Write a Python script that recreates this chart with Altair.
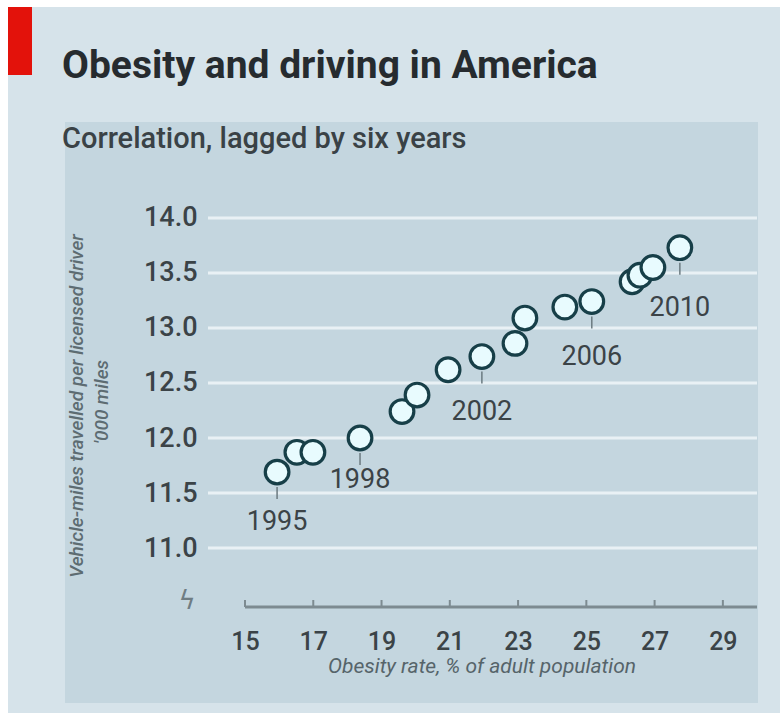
import altair as alt
import pandas as pd

# ---- data ----
years = [1995, 1996, 1997, 1998, 1999, 2000, 2001, 2002,
         2003, 2004, 2005, 2006, 2007, 2008, 2009, 2010]
obesity = [15.94, 16.52, 16.99, 18.37, 19.60, 20.04, 20.95, 21.94,
           22.91, 23.20, 24.37, 25.16, 26.34, 26.57, 26.95, 27.74]
vmt = [11.69, 11.87, 11.87, 12.00, 12.24, 12.39, 12.62, 12.74,
       12.86, 13.09, 13.19, 13.24, 13.42, 13.48, 13.55, 13.73]
labelled_years = [1995, 1998, 2002, 2006, 2010]
y_ticks = [11.0, 11.5, 12.0, 12.5, 13.0, 13.5, 14.0]
x_ticks = [15, 17, 19, 21, 23, 25, 27, 29]

title_text = "Obesity and driving in America"
subtitle_text = "Correlation, lagged by six years"
x_title = "Obesity rate, % of adult population"
y_title_1 = "Vehicle-miles travelled per licensed driver"
y_title_2 = "'000 miles"

df = pd.DataFrame({"year": years, "obesity": obesity, "vmt": vmt})
df["label"] = df["year"].astype(str)
lab = df[df["year"].isin(labelled_years)]
ydf = pd.DataFrame({"v": y_ticks})
xdf = pd.DataFrame({"v": x_ticks})
one = pd.DataFrame({"a": [0]})

# ---- layout ----
LEFT, TOP, W, H = 208, 170, 549, 437
FONT = "Roboto"
XDOM = [13.916, 30.0]
YDOM = [10.464, 14.436]

xs = alt.Scale(domain=XDOM, nice=False, zero=False)
ys = alt.Scale(domain=YDOM, nice=False, zero=False)


def px(v):
    return alt.value(v - LEFT)


def py(v):
    return alt.value(v - TOP)


base1 = alt.Chart(one)

outer = base1.mark_rect(color="#d6e3ea").encode(
    x=px(8), x2=px(780), y=py(7), y2=py(713))
panel = base1.mark_rect(color="#c4d6df").encode(
    x=px(65), x2=px(758), y=py(122), y2=py(703))
redbar = base1.mark_rect(color="#e3120b").encode(
    x=px(8), x2=px(32), y=py(7), y2=py(75))

title = base1.mark_text(
    text=title_text, font=FONT, fontSize=39, fontWeight="bold",
    color="#262b2f", align="left", baseline="alphabetic").encode(
    x=px(62), y=py(78))
subtitle = base1.mark_text(
    text=subtitle_text, font=FONT, fontSize=29, fontWeight=500,
    color="#3a4246", align="left", baseline="alphabetic").encode(
    x=px(62), y=py(148))

ytitle1 = base1.mark_text(
    text=y_title_1, font=FONT, fontSize=19, fontStyle="italic",
    fontWeight=500, color="#5d6c72", angle=270, align="center",
    baseline="middle").encode(x=px(77), y=py(406))
ytitle2 = base1.mark_text(
    text=y_title_2, font=FONT, fontSize=19, fontStyle="italic",
    fontWeight=500, color="#5d6c72", angle=270, align="center",
    baseline="middle").encode(x=px(102), y=py(402))
xtitle = base1.mark_text(
    text=x_title, font=FONT, fontSize=21, fontStyle="italic",
    color="#56646a", align="center", baseline="middle").encode(
    x=px(482), y=py(667))
brk = base1.mark_text(
    text="ϟ", font="DejaVu Sans", fontSize=26, color="#6f7d83",
    align="center", baseline="middle").encode(
    x=px(187), y=py(601))

grid = alt.Chart(ydf).mark_rule(color="#e9f1f5", strokeWidth=3).encode(
    y=alt.Y("v:Q", scale=ys,
            axis=alt.Axis(values=y_ticks, format=".1f", title=None,
                          grid=False, ticks=False, domain=False,
                          labelFont=FONT, labelFontSize=27,
                          labelFontWeight=500,
                          labelColor="#3b4347", labelPadding=11,
                          zindex=1)),
    x=alt.value(0), x2=alt.value(W))

xaxis_line = base1.mark_rule(color="#7d8b91", strokeWidth=3).encode(
    x=alt.X(datum=15, scale=xs,
            axis=alt.Axis(values=x_ticks, title=None, grid=False,
                          ticks=False, domain=False, labelFont=FONT,
                          labelFontSize=25, labelFontWeight=500,
                          labelColor="#3b4347",
                          labelPadding=22, zindex=1)),
    x2=alt.datum(30),
    y=alt.value(H))
xticks_m = alt.Chart(xdf).mark_rule(color="#7d8b91", strokeWidth=2).encode(
    x=alt.X("v:Q", scale=xs), y=alt.value(H - 7), y2=alt.value(H))

leaders = alt.Chart(lab).mark_rule(
    color="#6b7a80", strokeWidth=1.5, yOffset=15, y2Offset=27).encode(
    x=alt.X("obesity:Q", scale=xs), y=alt.Y("vmt:Q", scale=ys),
    y2="vmt:Q")

points = alt.Chart(df).mark_point(
    shape="circle", filled=False, size=560, strokeWidth=3.2,
    fill="#e8fbfe", fillOpacity=1, stroke="#173f48", opacity=1).encode(
    x=alt.X("obesity:Q", scale=xs), y=alt.Y("vmt:Q", scale=ys))

# year annotations: vertical offset of each label below its point (style)
label_layers = []
for yr, dy in zip(labelled_years, [50, 42, 55, 55, 60]):
    label_layers.append(
        alt.Chart(lab[lab["year"] == yr]).mark_text(
            font=FONT, fontSize=27, color="#3b4347", dy=dy,
            align="center", baseline="middle").encode(
            x=alt.X("obesity:Q", scale=xs), y=alt.Y("vmt:Q", scale=ys),
            text="label:N"))

chart = alt.layer(
    outer, panel, redbar, title, subtitle, ytitle1, ytitle2, xtitle, brk,
    grid, xaxis_line, xticks_m, leaders, points, *label_layers
).properties(
    width=W, height=H,
    autosize=alt.AutoSizeParams(type="none"),
    padding={"left": LEFT, "top": TOP, "right": 780 - LEFT - W,
             "bottom": 715 - TOP - H},
    background="#ffffff"
).configure_view(stroke=None, fill=None)

chart.save("out.html", embed_options={"renderer": "svg", "actions": False})
